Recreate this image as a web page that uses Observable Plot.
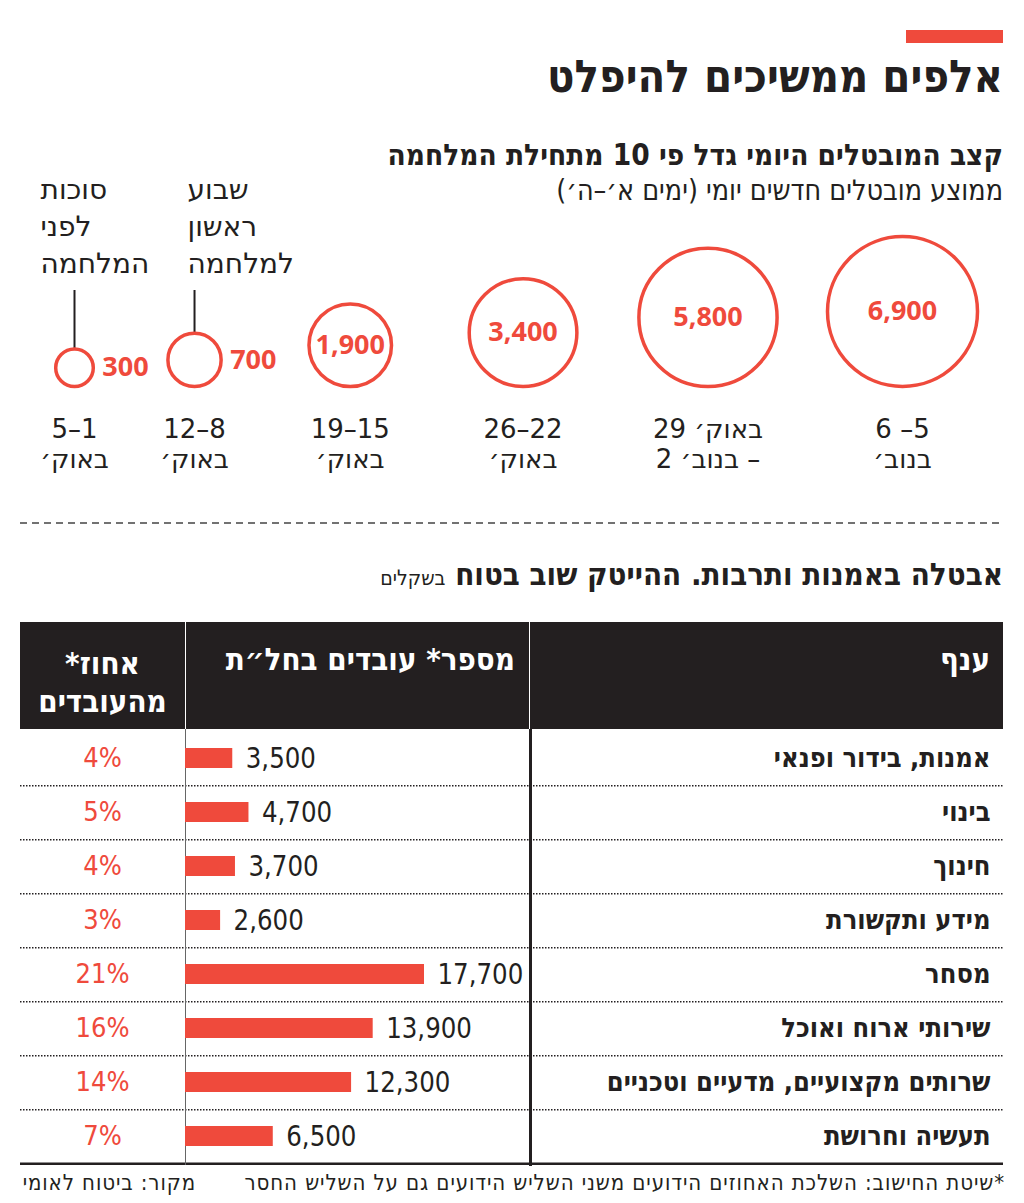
<!DOCTYPE html>
<html lang="he">
<head>
<meta charset="utf-8">
<script src="https://cdn.jsdelivr.net/npm/d3@7"></script>
<script src="https://cdn.jsdelivr.net/npm/@observablehq/plot@0.6"></script>
<style>
  body { margin: 0; background: #fff; }
  #page { position: relative; width: 1024px; height: 1203px; overflow: hidden; background: #fff;
          font-family: "DejaVu Sans Condensed", "DejaVu Sans", sans-serif; color: #231f20; }
  .abs { position: absolute; }
  .rt { position: absolute; direction: rtl; text-align: right; white-space: nowrap; transform-origin: right center; }
  .hd { color: #fff; font-weight: bold; }
</style>
</head>
<body>
<div id="page">
  <div class="abs" style="left:906px;top:30px;width:97px;height:13px;background:#ef4a3c"></div>
  <div class="rt" id="title" style="right:21px;top:54px;font-size:45px;line-height:45px;font-weight:bold">אלפים ממשיכים להיפלט</div>
  <div class="rt" id="sub1" style="right:21px;top:141px;font-size:29.5px;line-height:29.5px;font-weight:bold">קצב המובטלים היומי גדל פי 10 מתחילת המלחמה</div>
  <div class="rt" id="sub2" style="right:21px;top:177px;font-size:28.4px;line-height:28.4px">ממוצע מובטלים חדשים יומי (ימים א׳–ה׳)</div>

  <div class="abs" id="bubbles" style="left:0;top:170px"></div>

  <svg class="abs" style="left:0;top:520px" width="1024" height="6"><line x1="20" x2="1003" y1="3" y2="3" stroke="#444" stroke-width="1.5" stroke-dasharray="7,5"/></svg>

  <div class="rt" id="ttl2" style="right:21px;top:559px;font-size:31px;line-height:31px;font-weight:bold">אבטלה באמנות ותרבות. ההייטק שוב בטוח <span style="font-weight:normal;font-size:21px">בשקלים</span></div>

  <div class="abs" style="left:20px;top:622px;width:983px;height:107px;background:#231f20"></div>
  <div class="abs" style="left:185px;top:622px;width:1px;height:107px;background:#fff"></div>
  <div class="abs" style="left:529px;top:622px;width:1px;height:107px;background:#fff"></div>
  <div class="rt hd" style="right:34px;top:644px;font-size:31px;line-height:31px">ענף</div>
  <div class="rt hd" style="right:509px;top:644px;font-size:31px;line-height:31px">מספר* עובדים בחל״ת</div>
  <div class="abs hd" style="left:20px;width:165px;top:644px;font-size:31px;line-height:38px;text-align:center;direction:rtl">אחוז*<br>מהעובדים</div>

  <div class="abs" id="table" style="left:0;top:729px"></div>
  <div class="abs" style="left:529px;top:729px;width:3px;height:437px;background:#231f20"></div>

  <div class="rt" id="foot1" style="right:19px;top:1172px;font-size:22px;line-height:22px;letter-spacing:0.9px">*שיטת החישוב: השלכת האחוזים הידועים משני השליש הידועים גם על השליש החסר</div>
  <div class="rt" id="foot2" style="right:828px;top:1172px;font-size:22px;line-height:22px;letter-spacing:0.9px">מקור: ביטוח לאומי</div>
</div>
<script>
// ---------- data ----------
const bubbleValues = [300, 700, 1900, 3400, 5800, 6900];
const bubbleDates = [["5–1", "באוק׳"], ["12–8", "באוק׳"], ["19–15", "באוק׳"], ["26–22", "באוק׳"], ["באוק׳ 29", "בנוב׳ 2 –"], ["6 –5", "בנוב׳"]];
const noteIndex = [0, 1];
const noteTexts = [["סוכות", "לפני", "המלחמה"], ["שבוע", "ראשון", "למלחמה"]];

const categories = ["אמנות, בידור ופנאי", "בינוי", "חינוך", "מידע ותקשורת", "מסחר", "שירותי ארוח ואוכל", "שרותים מקצועיים, מדעיים וטכניים", "תעשיה וחרושת"];
const workers = [3500, 4700, 3700, 2600, 17700, 13900, 12300, 6500];
const shares = [4, 5, 4, 3, 21, 16, 14, 7];

// ---------- styles ----------
const RED = "#ef4a3c";
const INK = "#231f20";
const fmt = d3.format(",");
const SANS = "'Open Sans', 'DejaVu Sans', sans-serif";
const PLAIN = "'DejaVu Sans', sans-serif";
const COND = "'DejaVu Sans Condensed', 'DejaVu Sans', sans-serif";

// ---------- bubbles ----------
const bubbles = bubbleValues.map((value, i) => ({i, value, line1: bubbleDates[i][0], line2: bubbleDates[i][1]}));
const rRange = [4, 75];
const rScale = d3.scaleSqrt().domain([0, d3.max(bubbleValues)]).range(rRange);
const notes = noteIndex.map((i) => ({i, value: bubbleValues[i]}));
const NOTE_LH = 36.6, NOTE_TOP = 196;
const noteLines = noteIndex.flatMap((i, k) => noteTexts[k].map((text, j) => ({i, k, text, y: NOTE_TOP - j * NOTE_LH})));
const noteDx = [-34, -7];
const inside = bubbles.filter(d => rScale(d.value) > 35);
const outside = bubbles.filter(d => rScale(d.value) <= 35);

const bubblePlot = Plot.plot({
  width: 1024, height: 320, margin: 0,
  x: {type: "pow", exponent: 1.2, domain: [0, bubbleValues.length - 1], range: [74, 902], axis: null},
  y: {domain: [0, 216], range: [216, 0], axis: null},
  r: {type: "sqrt", domain: [0, d3.max(bubbleValues)], range: rRange},
  style: {background: "transparent", overflow: "visible", fontFamily: SANS, color: INK},
  marks: [
    Plot.ruleX(notes, {x: "i", y1: 96, y2: d => 2 * rScale(d.value), stroke: INK, strokeWidth: 2}),
    ...noteDx.map((dx, k) => Plot.text(noteLines.filter(d => d.k === k), {x: "i", y: "y", text: "text", textAnchor: "start",
      dx, fontSize: 28, fontFamily: PLAIN, fill: INK})),
    Plot.dot(bubbles, {x: "i", y: d => rScale(d.value), r: "value", stroke: RED, strokeWidth: 3.5, fill: "none"}),
    Plot.text(inside, {x: "i", y: d => rScale(d.value), text: d => fmt(d.value), fill: RED, fontWeight: "bold", fontSize: 27}),
    ...outside.map(d => Plot.text([d], {x: "i", y: dd => rScale(dd.value), text: dd => fmt(dd.value), textAnchor: "start",
      dx: rScale(d.value) + 9, fill: RED, fontWeight: "bold", fontSize: 27})),
    Plot.text(bubbles, {x: "i", y: -42.7, text: "line1", fontSize: 26, fontFamily: PLAIN, fill: INK}),
    Plot.text(bubbles, {x: "i", y: -72.7, text: "line2", fontSize: 26, fontFamily: PLAIN, fill: INK})
  ]
});
document.getElementById("bubbles").appendChild(bubblePlot);

// ---------- table ----------
const rows = categories.map((cat, k) => ({cat, workers: workers[k], share: shares[k]}));
const TH = 440, MB = 4;
const ROW = (TH - MB) / categories.length;
const tablePlot = Plot.plot({
  width: 1024, height: TH, marginTop: 0, marginBottom: MB, marginLeft: 20, marginRight: 21,
  x: {domain: [0, d3.max(workers)], range: [185, 424], axis: null},
  y: {domain: categories, padding: 0, axis: null},
  style: {background: "transparent", overflow: "visible", fontFamily: COND, color: INK},
  marks: [
    Plot.ruleY(categories.slice(0, -1), {dy: ROW / 2, stroke: INK, strokeWidth: 1.5, strokeDasharray: "1.5,1.5"}),
    Plot.ruleY(categories.slice(-1), {dy: ROW / 2, stroke: INK, strokeWidth: 2.5}),
    Plot.ruleX([0], {stroke: "#666", strokeWidth: 1}),
    Plot.barX(rows, {x: "workers", y: "cat", fill: RED, insetTop: 17, insetBottom: 17}),
    Plot.text(rows, {x: "workers", y: "cat", text: d => fmt(d.workers), dx: 13, textAnchor: "start",
      fontSize: 29, fill: INK}),
    Plot.text(rows, {y: "cat", text: "cat", frameAnchor: "right", dx: -13, textAnchor: "end",
      fontSize: 27, fontWeight: "bold", fill: INK}),
    Plot.text(rows, {y: "cat", text: d => d.share + "%", frameAnchor: "left", dx: 82, textAnchor: "middle",
      fontSize: 27, fill: RED})
  ]
});
// slightly condense the worker-count labels (narrow typeface look)
const valueLabels = new Set(workers.map(fmt));
d3.select(tablePlot).selectAll("text").each(function() {
  if (!valueLabels.has(this.textContent)) return;
  const t = this.getAttribute("transform");
  if (t) this.setAttribute("transform", t + " scale(0.94,1)");
  else {
    const x = +this.getAttribute("x") || 0, y = +this.getAttribute("y") || 0;
    this.removeAttribute("x"); this.removeAttribute("y");
    this.setAttribute("transform", `translate(${x},${y}) scale(0.94,1)`);
  }
});
document.getElementById("table").appendChild(tablePlot);
</script>
</body>
</html>
